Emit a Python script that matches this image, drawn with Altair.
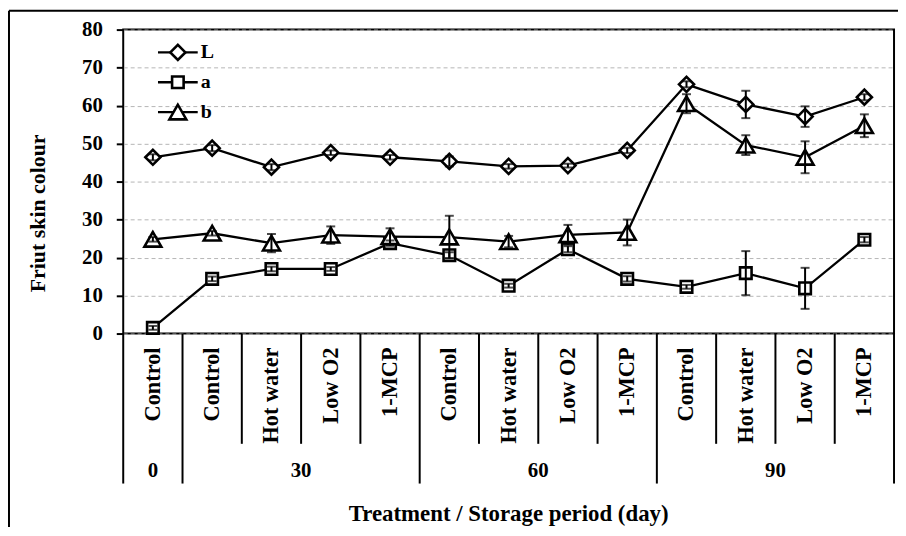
import altair as alt
import pandas as pd

# ---------------- data ----------------
treatments = ["Control", "Control", "Hot water", "Low O2", "1-MCP",
              "Control", "Hot water", "Low O2", "1-MCP",
              "Control", "Hot water", "Low O2", "1-MCP"]
periods = ["0", "30", "30", "30", "30", "60", "60", "60", "60", "90", "90", "90", "90"]
series_names = ["L", "a", "b"]

L_vals = [46.4, 48.8, 43.8, 47.6, 46.4, 45.3, 44.0, 44.2, 48.2, 65.6, 60.3, 57.1, 62.2]
L_err = [0.8, 0.8, 0.8, 0.6, 0.6, 1.3, 0.6, 0.5, 0.7, 0.8, 3.6, 2.7, 0.8]
a_vals = [1.5, 14.4, 17.0, 17.0, 23.8, 20.6, 12.6, 22.2, 14.4, 12.3, 15.9, 11.9, 24.7]
a_err = [0.5, 0.6, 0.6, 0.5, 0.7, 0.8, 0.5, 0.8, 0.7, 0.5, 5.8, 5.4, 0.7]
b_vals = [24.8, 26.4, 23.8, 25.9, 25.5, 25.4, 24.2, 26.0, 26.6, 60.5, 49.6, 46.4, 54.7]
b_err = [0.6, 0.6, 2.4, 2.3, 2.2, 5.6, 1.5, 2.6, 3.4, 2.5, 2.6, 4.2, 3.0]

y_ticks = [0, 10, 20, 30, 40, 50, 60, 70, 80]
x_title = "Treatment  / Storage period  (day)"
y_title = "Friut  skin colour"

# ---------------- tables ----------------
rows = []
for s, vals, errs in zip(series_names, [L_vals, a_vals, b_vals], [L_err, a_err, b_err]):
    for i, (v, e) in enumerate(zip(vals, errs)):
        rows.append({"idx": i, "series": s, "value": v, "lo": v - e, "hi": v + e})
df = pd.DataFrame(rows)

cat_df = pd.DataFrame({"idx": list(range(len(treatments))), "treatment": treatments, "period": periods})

bounds = []
n = len(periods)
for k in range(n + 1):
    left = periods[k - 1] if k > 0 else None
    right = periods[k] if k < n else None
    bounds.append({"pos": k - 0.5, "long": left != right})
sep_df = pd.DataFrame(bounds)

group_df = cat_df.groupby("period", sort=False)["idx"].mean().reset_index()

leg_df = pd.DataFrame({"series": series_names, "row": list(range(len(series_names)))})

# ---------------- styling ----------------
W, H = 776, 306
FONT = "Liberation Serif"
SIZE_EXPR = "datum.series == 'L' ? 230 : (datum.series == 'a' ? 135 : 290)"

xscale = alt.Scale(domain=[-0.5, n - 0.5], nice=False, zero=False)
yscale = alt.Scale(domain=[0, 80], nice=False, zero=True)
yaxis = alt.Axis(values=y_ticks, title=None, grid=True, gridDash=[4, 3], gridColor="#b5b5b5",
                 gridWidth=1, domain=False, ticks=True, tickColor="black", tickWidth=2, tickSize=7,
                 labelFont=FONT, labelFontWeight="bold", labelFontSize=21, labelColor="black",
                 labelPadding=14)
shape_enc = alt.Shape("series:N", scale=alt.Scale(domain=series_names,
                                                  range=["diamond", "square", "triangle-up"]), legend=None)
size_enc = alt.Size("msize:Q", scale=None, legend=None)
X = alt.X("idx:Q", scale=xscale, axis=None)

base = alt.Chart(df)

lines = base.mark_line(color="black", strokeWidth=2.3).encode(
    x=X, y=alt.Y("value:Q", scale=yscale, axis=yaxis), detail="series:N", order="idx:Q")

points = base.transform_calculate(msize=SIZE_EXPR).mark_point(
    filled=True, fill="white", stroke="black", strokeWidth=2.6, opacity=1).encode(
    x=X, y=alt.Y("value:Q", scale=yscale, axis=yaxis), shape=shape_enc, size=size_enc)

err_rule = base.mark_rule(color="black", strokeWidth=2).encode(
    x=X, y=alt.Y("lo:Q", scale=yscale, axis=yaxis), y2="hi:Q")
cap_hi = base.mark_tick(orient="horizontal", size=9, thickness=2, color="black").encode(
    x=X, y=alt.Y("hi:Q", scale=yscale, axis=yaxis))
cap_lo = base.mark_tick(orient="horizontal", size=9, thickness=2, color="black").encode(
    x=X, y=alt.Y("lo:Q", scale=yscale, axis=yaxis))

# x axis: category separators and labels
sep_base = alt.Chart(sep_df)
sep_short = sep_base.transform_filter("!datum.long").mark_rule(color="black", strokeWidth=2).encode(
    x=alt.X("pos:Q", scale=xscale, axis=None), y=alt.value(H), y2=alt.value(H + 111))
sep_long = sep_base.transform_filter("datum.long").mark_rule(color="black", strokeWidth=2).encode(
    x=alt.X("pos:Q", scale=xscale, axis=None), y=alt.value(H), y2=alt.value(H + 151))

cat_text = alt.Chart(cat_df).mark_text(angle=270, align="right", baseline="middle", font=FONT,
                                       fontWeight="bold", fontSize=22.5, color="black").encode(
    x=X, y=alt.value(H + 14), text="treatment:N")

grp_text = alt.Chart(group_df).mark_text(align="center", baseline="middle", font=FONT,
                                         fontWeight="bold", fontSize=21, color="black").encode(
    x=X, y=alt.value(H + 138), text="period:N")

title_df = pd.DataFrame({"t": [x_title]})
xt = alt.Chart(title_df).mark_text(align="center", baseline="alphabetic", font=FONT,
                                   fontWeight="bold", fontSize=23, color="black").encode(
    x=alt.value(W / 2), y=alt.value(H + 189), text="t:N")
ytitle_df = pd.DataFrame({"t": [y_title]})
yt = alt.Chart(ytitle_df).mark_text(angle=270, align="center", baseline="middle", font=FONT,
                                    fontWeight="bold", fontSize=22, color="black").encode(
    x=alt.value(-86), y=alt.value(185), text="t:N")

# outer frame (left and top edges)
frame_l = alt.Chart(title_df).mark_rule(color="black", strokeWidth=2).encode(
    x=alt.value(-115), y=alt.value(-19), y2=alt.value(H + 200))
frame_t = alt.Chart(title_df).mark_rule(color="black", strokeWidth=2).encode(
    x=alt.value(-115), x2=alt.value(W + 10), y=alt.value(-19))

# legend
leg_base = alt.Chart(leg_df).transform_calculate(ly="23 + 30 * datum.row", msize=SIZE_EXPR)
LY = alt.Y("ly:Q", scale=None, axis=None)
leg_rule = leg_base.mark_rule(color="black", strokeWidth=2.3).encode(
    x=alt.value(35), x2=alt.value(75), y=LY)
leg_pt = leg_base.mark_point(filled=True, fill="white", stroke="black", strokeWidth=2.6, opacity=1).encode(
    x=alt.value(55), y=LY, shape=shape_enc, size=size_enc)
leg_txt = leg_base.mark_text(align="left", baseline="middle", font=FONT, fontWeight="bold",
                             fontSize=20, color="black").encode(
    x=alt.value(78), y=LY, text="series:N")

chart = alt.layer(
    lines, points, err_rule, cap_hi, cap_lo,
    sep_short, sep_long, cat_text, grp_text, xt, yt, frame_l, frame_t,
    leg_rule, leg_pt, leg_txt
).properties(
    width=W, height=H,
    autosize=alt.AutoSizeParams(type="none"),
    padding={"left": 116, "top": 20, "right": 4, "bottom": 193},
    background="white",
).configure_view(stroke="black", strokeWidth=2)

chart.save("out.html", embed_options={"renderer": "svg", "actions": False})
